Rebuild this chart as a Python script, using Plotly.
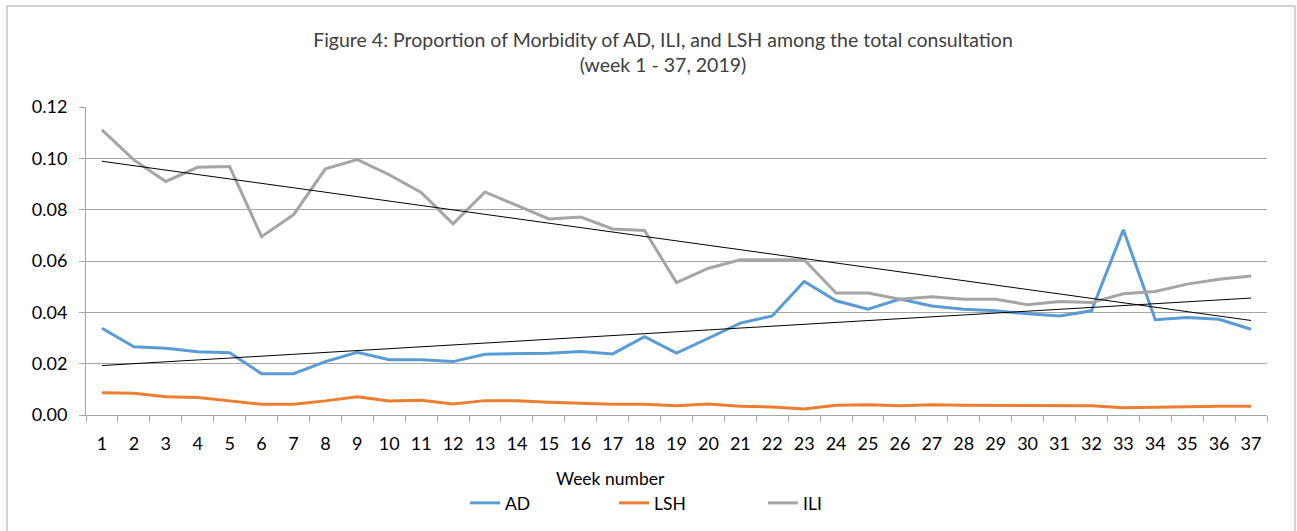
import numpy as np
import plotly.graph_objects as go

weeks = list(range(1, 38))
week_labels = [str(w) for w in weeks]

ad = [0.0338, 0.0266, 0.0260, 0.0246, 0.0243, 0.0161, 0.0161, 0.0208, 0.0244, 0.0215,
      0.0215, 0.0208, 0.0237, 0.0238, 0.0241, 0.0247, 0.0238, 0.0305, 0.0241, 0.0299,
      0.0358, 0.0386, 0.0520, 0.0445, 0.0412, 0.0452, 0.0425, 0.0412, 0.0406, 0.0394,
      0.0386, 0.0406, 0.0722, 0.0371, 0.0380, 0.0373, 0.0334]

lsh = [0.0087, 0.0085, 0.0071, 0.0068, 0.0055, 0.0042, 0.0042, 0.0055, 0.0071, 0.0055,
       0.0057, 0.0043, 0.0056, 0.0056, 0.0050, 0.0046, 0.0042, 0.0042, 0.0036, 0.0043,
       0.0034, 0.0031, 0.0023, 0.0038, 0.0040, 0.0036, 0.0040, 0.0038, 0.0038, 0.0036,
       0.0038, 0.0036, 0.0028, 0.0031, 0.0032, 0.0034, 0.0034]

ili = [0.1111, 0.0994, 0.0910, 0.0965, 0.0968, 0.0695, 0.0780, 0.0959, 0.0995, 0.0936,
       0.0867, 0.0745, 0.0869, 0.0818, 0.0764, 0.0771, 0.0725, 0.0719, 0.0516, 0.0572,
       0.0605, 0.0605, 0.0605, 0.0475, 0.0475, 0.0451, 0.0461, 0.0451, 0.0451, 0.0430,
       0.0442, 0.0438, 0.0472, 0.0481, 0.0510, 0.0529, 0.0542]

y_ticks = [0.0, 0.02, 0.04, 0.06, 0.08, 0.10, 0.12]

title_text = ("Figure 4: Proportion of Morbidity of AD, ILI, and LSH among the total consultation"
              "<br>(week 1 - 37, 2019)")
x_title = "Week number"

FONT = "Lato"
W, H = 1297, 531
ML, MR, MT, MB = 86, 30, 107, 116
PW = W - ML - MR
PH = H - MT - MB

def px_x(px):
    return (px - ML) / PW

def px_y(py):
    return (H - MB - py) / PH

x = np.array(weeks, dtype=float)
ad_fit = np.polyval(np.polyfit(x, ad, 1), x)
ili_fit = np.polyval(np.polyfit(x, ili, 1), x)

fig = go.Figure()
fig.add_trace(go.Scatter(x=week_labels, y=ad, mode="lines", name="AD",
                         line=dict(color="#5B9BD5", width=3)))
fig.add_trace(go.Scatter(x=week_labels, y=lsh, mode="lines", name="LSH",
                         line=dict(color="#ED7D31", width=3)))
fig.add_trace(go.Scatter(x=week_labels, y=ili, mode="lines", name="ILI",
                         line=dict(color="#A5A5A5", width=3)))
fig.add_trace(go.Scatter(x=week_labels, y=ad_fit, mode="lines", showlegend=False,
                         line=dict(color="black", width=1), hoverinfo="skip"))
fig.add_trace(go.Scatter(x=week_labels, y=ili_fit, mode="lines", showlegend=False,
                         line=dict(color="black", width=1), hoverinfo="skip"))

fig.update_layout(
    width=W, height=H,
    margin=dict(l=ML, r=MR, t=MT, b=MB, autoexpand=False),
    paper_bgcolor="white", plot_bgcolor="white",
    font=dict(family=FONT, size=18, color="#000000"),
    title=dict(text=title_text, x=663 / W, xref="container", xanchor="center",
               y=1 - 47 / H, yref="container", yanchor="middle",
               font=dict(family=FONT, size=19.5, color="#404040")),
    legend=dict(orientation="h", x=465 / W, xref="container", xanchor="left",
                y=1 - 503 / H, yref="container", yanchor="middle",
                entrywidth=104, entrywidthmode="pixels",
                font=dict(family=FONT, size=17.5), bgcolor="rgba(0,0,0,0)"),
    showlegend=True,
)

fig.update_xaxes(type="category", range=[-0.5, len(weeks) - 0.5], tickson="boundaries",
                 ticks="outside", ticklen=6, automargin=False,
                 tickcolor="#a6a6a6", showline=True, linecolor="#a6a6a6", linewidth=1,
                 showgrid=False, tickfont=dict(family=FONT, size=18), ticklabelstandoff=12)
fig.update_yaxes(range=[0, 0.12], tickvals=y_ticks, tickformat=".2f", ticks="outside",
                 ticklen=6, automargin=False, showline=True, linecolor="#a6a6a6",
                 tickcolor="#a6a6a6",
                 linewidth=1, showgrid=True, gridcolor="#a6a6a6", gridwidth=1,
                 zeroline=False, tickfont=dict(family=FONT, size=18), ticklabelstandoff=8)

fig.add_annotation(text=x_title, xref="paper", yref="paper", x=px_x(610), y=px_y(478),
                   xanchor="center", yanchor="middle", showarrow=False,
                   font=dict(family=FONT, size=17.5))

fig.add_shape(type="rect", xref="paper", yref="paper",
              x0=px_x(7), x1=px_x(1295), y0=px_y(560), y1=px_y(6),
              line=dict(color="#a6a6a6", width=1), fillcolor="rgba(0,0,0,0)", layer="below")

post = ("var d=document.documentElement,b=document.body;"
        "d.style.margin='0';d.style.padding='0';d.style.overflow='hidden';"
        "b.style.margin='0';b.style.padding='0';b.style.overflow='hidden';")
fig.write_html("out.html", config={"displayModeBar": False}, post_script=post)
